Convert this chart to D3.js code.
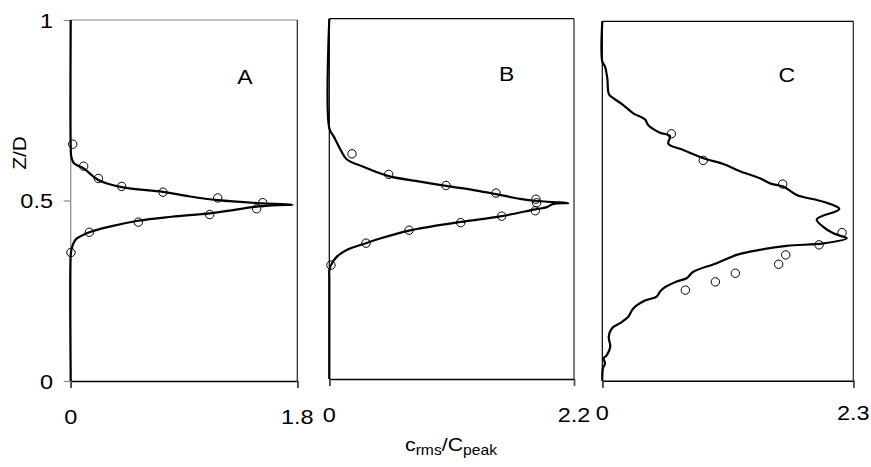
<!DOCTYPE html>
<html><head><meta charset="utf-8">
<script src="https://cdn.jsdelivr.net/npm/d3@7"></script>
<style>body{margin:0;background:#fff}svg{display:block;font-family:Arial,"Liberation Sans",sans-serif}</style>
</head><body><svg id="c" width="871" height="467"></svg>
<script>
// ---- data ----
const panelNames = ["A", "B", "C"];
const xMaxes = [1.8, 2.2, 2.3];
const yTicks = [0, 0.5, 1];
const xTickLabelsA = ["0", "1.8"];
const xTickLabelsB = ["0", "2.2"];
const xTickLabelsC = ["0", "2.3"];

// Curve A (x = c_rms/C_peak, y = Z/D)
const curveAx = [0, 0, 0.005, 0.021, 0.048, 0.074, 0.148, 0.3, 0.535, 0.8, 1.104, 1.3, 1.477, 1.65, 1.763, 1.525, 1.168, 0.95, 0.733, 0.405, 0.219, 0.103, 0.026, 0.005, 0, 0];
const curveAy = [0, 0.35, 0.362, 0.381, 0.395, 0.4, 0.412, 0.427, 0.444, 0.455, 0.4645, 0.474, 0.483, 0.487, 0.488, 0.492, 0.501, 0.511, 0.524, 0.537, 0.557, 0.589, 0.603, 0.621, 0.65, 1];
const pointsAx = [0.016, 0.103, 0.22, 0.405, 0.733, 1.168, 1.525, 1.477, 1.104, 0.537, 0.148, 0.002];
const pointsAy = [0.656, 0.595, 0.561, 0.539, 0.523, 0.507, 0.494, 0.477, 0.461, 0.440, 0.412, 0.356];

// Curve B
const curveBx = [0, 0, 0, 0.015, 0.066, 0.156, 0.33, 0.456, 0.717, 0.816, 1.181, 1.55, 1.852, 1.955, 2.014, 2.149, 2.014, 1.865, 1.715, 1.499, 1.325, 1.049, 0.816, 0.534, 0.306, 0.156, 0.102, 0.042, 0, 0];
const curveBy = [0, 0.284, 0.3, 0.316, 0.339, 0.358, 0.377, 0.39, 0.412, 0.418, 0.436, 0.452, 0.471, 0.477, 0.486, 0.488, 0.491, 0.494, 0.5, 0.513, 0.523, 0.536, 0.548, 0.563, 0.589, 0.61, 0.636, 0.672, 0.696, 1];
const pointsBx = [0.204, 0.534, 1.049, 1.499, 1.858, 1.864, 1.852, 1.55, 1.181, 0.717, 0.33, 0.015];
const pointsBy = [0.625, 0.568, 0.537, 0.516, 0.499, 0.489, 0.467, 0.452, 0.434, 0.413, 0.377, 0.316];

// Curve C
const curveCx = [0, 0.006, 0.025, 0.012, 0.043, 0.073, 0.059, 0.089, 0.162, 0.238, 0.284, 0.391, 0.498, 0.529, 0.559, 0.682, 0.773, 0.834, 1.048, 1.231, 1.353, 1.69, 2.025, 2.239, 2.224, 2.117, 2.025, 1.965, 2.172, 2.025, 1.781, 1.659, 1.537, 1.445, 1.262, 1.109, 0.925, 0.742, 0.605, 0.62, 0.529, 0.422, 0.391, 0.284, 0.192, 0.101, 0.061, 0.046, 0.025, 0, 0];
const curveCy = [0, 0.035, 0.048, 0.062, 0.072, 0.095, 0.122, 0.146, 0.16, 0.178, 0.201, 0.223, 0.234, 0.248, 0.257, 0.276, 0.285, 0.303, 0.327, 0.35, 0.359, 0.375, 0.382, 0.396, 0.399, 0.41, 0.428, 0.449, 0.478, 0.498, 0.517, 0.54, 0.549, 0.563, 0.583, 0.603, 0.619, 0.642, 0.659, 0.681, 0.69, 0.711, 0.727, 0.744, 0.767, 0.786, 0.797, 0.841, 0.874, 0.888, 1];
const pointsCx = [0.633, 0.925, 1.653, 2.197, 1.986, 1.681, 1.616, 1.219, 1.036, 0.761];
const pointsCy = [0.687, 0.613, 0.547, 0.412, 0.378, 0.35, 0.324, 0.299, 0.275, 0.252];

const yLabel = "Z/D";

// ---- layout (pixels) ----
const layout = [
  {l: 70.7, r: 297.3, t: 20, b: 381, lab: [245, 84], tickBase: 424, leftGray: true},
  {l: 329.3, r: 574, t: 18.7, b: 379, lab: [506.7, 80.7], tickBase: 422},
  {l: 602.3, r: 853.3, t: 21.3, b: 380.7, lab: [786.7, 81.7], tickBase: 419.5}
];
const curves = [[curveAx, curveAy], [curveBx, curveBy], [curveCx, curveCy]];
const points = [[pointsAx, pointsAy], [pointsBx, pointsBy], [pointsCx, pointsCy]];
const xTickLabels = [xTickLabelsA, xTickLabelsB, xTickLabelsC];

const svg = d3.select("#c");
const stretch = 1.12; // horizontal text stretch seen in the reference

function stretchedText(sel, x, y, anchor) {
  return sel.append("text")
    .attr("transform", `translate(${x},${y}) scale(${stretch},1)`)
    .attr("text-anchor", anchor).attr("fill", "#000");
}

layout.forEach((g, i) => {
  const x = d3.scaleLinear().domain([0, xMaxes[i]]).range([g.l, g.r]);
  const y = d3.scaleLinear().domain([0, 1]).range([g.b, g.t]);
  const p = svg.append("g");

  // frame
  p.append("line").attr("x1", g.l).attr("x2", g.r).attr("y1", g.t).attr("y2", g.t)
    .attr("stroke", g.leftGray ? "#888" : "#000").attr("stroke-width", 1.2);
  p.append("line").attr("x1", g.r).attr("x2", g.r).attr("y1", g.t).attr("y2", g.b)
    .attr("stroke", "#222").attr("stroke-width", 1.2);
  p.append("line").attr("x1", g.l).attr("x2", g.l).attr("y1", g.t).attr("y2", g.b)
    .attr("stroke", g.leftGray ? "#888" : "#000").attr("stroke-width", 1.2);

  // bottom axis
  const xa = d3.axisBottom(x).tickValues([0, xMaxes[i]]).tickSize(7).tickFormat("");
  const xg = p.append("g").attr("transform", `translate(0,${g.b})`).call(xa);
  xg.select(".domain").attr("stroke", "#000").attr("stroke-width", 1.5);
  xg.selectAll(".tick line").attr("stroke", "#555").attr("stroke-width", 1.2);
  [0, xMaxes[i]].forEach((d, k) => {
    stretchedText(p, x(d), g.tickBase, "middle").attr("font-size", 21).text(xTickLabels[i][k]);
  });

  if (i === 0) {
    const ya = d3.axisLeft(y).tickValues(yTicks).tickSize(7).tickFormat("");
    const yg = p.append("g").attr("transform", `translate(${g.l},0)`).call(ya);
    yg.select(".domain").remove();
    yg.selectAll(".tick line").attr("stroke", "#888").attr("stroke-width", 1.2);
    yTicks.forEach(d => {
      stretchedText(p, 53, y(d) + 7.5, "end").attr("font-size", 21)
        .text(d === 0.5 ? "0.5" : String(d));
    });
  }

  // curve
  const [cx, cy] = curves[i];
  const line = d3.line().x(d => x(d[0])).y(d => y(d[1])).curve(d3.curveCatmullRom.alpha(0.5));
  p.append("path").datum(cx.map((v, k) => [v, cy[k]]))
    .attr("d", line).attr("fill", "none").attr("stroke", "#000").attr("stroke-width", 2.2)
    .attr("stroke-linejoin", "round");

  // points
  const [px, py] = points[i];
  p.selectAll("circle").data(px.map((v, k) => [v, py[k]])).join("circle")
    .attr("cx", d => x(d[0])).attr("cy", d => y(d[1])).attr("r", 4.2)
    .attr("fill", "none").attr("stroke", "#000").attr("stroke-width", 1);

  // panel letter
  stretchedText(p, g.lab[0], g.lab[1], "middle").attr("font-size", 20.5).text(panelNames[i]);
});

// y label
svg.append("text").attr("transform", "translate(26,153) rotate(-90) scale(1.1,1)")
  .attr("text-anchor", "middle").attr("font-size", 19).attr("fill", "#000").text(yLabel);

// x label
const xl = stretchedText(svg, 451, 451, "middle").attr("font-size", 19);
xl.append("tspan").text("c");
xl.append("tspan").attr("font-size", 14).attr("dy", 4).text("rms");
xl.append("tspan").attr("dy", -4).text("/C");
xl.append("tspan").attr("font-size", 14).attr("dy", 4).text("peak");
</script></body></html>
